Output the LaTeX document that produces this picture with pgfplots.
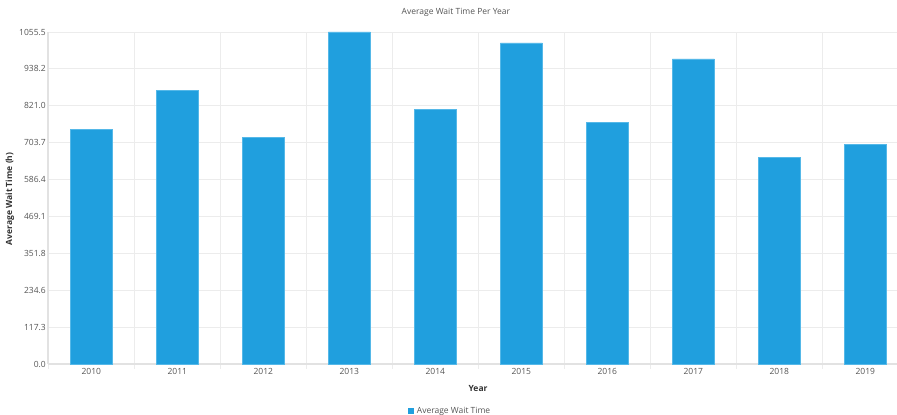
\documentclass[border=0pt]{standalone}
\usepackage{pgfplots}
\pgfplotsset{compat=1.18}
\usepackage{fontspec}
\setmainfont{Open Sans}
\definecolor{barblue}{HTML}{209FDE}
\definecolor{baredge}{HTML}{55B8E8}
\definecolor{gridgray}{HTML}{ECECEC}
\definecolor{axisgray}{HTML}{E2E2E2}
\definecolor{txtgray}{HTML}{555555}
\definecolor{lblgray}{HTML}{333333}

\begin{document}
\begin{tikzpicture}
\useasboundingbox (-48.3pt,-51pt) rectangle (848.7pt,364pt);
\clip (-48.3pt,-51pt) rectangle (848.7pt,364pt);
\begin{axis}[
    scale only axis,
    width=860pt, height=332pt,
    xmin=0, xmax=10,
    ymin=0, ymax=1055.5,
    axis x line=bottom, axis y line=left,
    axis line style={axisgray, line width=1.6pt, -},
    xtick={0.5,1.5,...,9.5},
    xticklabels={2010,2011,2012,2013,2014,2015,2016,2017,2018,2019},
    minor xtick={0,1,...,10},
    xminorgrids=true,
    minor x tick style={gridgray, line width=0.8pt},
    minor grid style={gridgray, line width=0.8pt},
    minor tick length=5pt,
    tick align=outside,
    major tick length=0pt,
    ytick={0,117.278,234.556,351.833,469.111,586.389,703.667,820.944,938.222,1055.5},
    yticklabels={0.0,117.3,234.6,351.8,469.1,586.4,703.7,821.0,938.2,1055.5},
    ymajorgrids=true,
    major grid style={gridgray, line width=0.8pt},
    ticklabel style={font=\fontsize{8.5}{10}\selectfont, text=txtgray},
    yticklabel style={xshift=1pt},
    xticklabel style={yshift=-1pt},
    title={Average Wait Time Per Year},
    title style={at={(axis description cs:0.474,1.042)}, anchor=center,
      font=\fontsize{8.5}{10}\selectfont, text=txtgray},
    xlabel={Year},
    xlabel style={at={(axis description cs:0.4997,-0.0753)}, anchor=center,
      font=\fontsize{8.5}{10}\selectfont\bfseries, text=lblgray},
    ylabel={Average Wait Time (h)},
    ylabel style={at={(axis description cs:-0.0445,0.497)}, anchor=center,
      font=\fontsize{8.5}{10}\selectfont\bfseries, text=lblgray},
    legend style={at={(axis description cs:0.468,-0.1416)}, anchor=center,
      draw=none, fill=none, font=\fontsize{8.5}{10}\selectfont, text=txtgray,
      inner sep=0pt, nodes={inner xsep=3pt}},
    legend image code/.code={\fill[barblue] (0pt,-2.5pt) rectangle (5pt,2.5pt);},
    clip=false,
]
\addplot[ybar, bar width=42pt, fill=barblue, draw=baredge, line width=0.6pt]
  coordinates {
  (0.5,747) (1.5,869) (2.5,720) (3.5,1055.5) (4.5,810)
  (5.5,1021) (6.5,768) (7.5,970) (8.5,657) (9.5,697)
};
\addlegendentry{Average Wait Time}
\end{axis}
\end{tikzpicture}
\end{document}
